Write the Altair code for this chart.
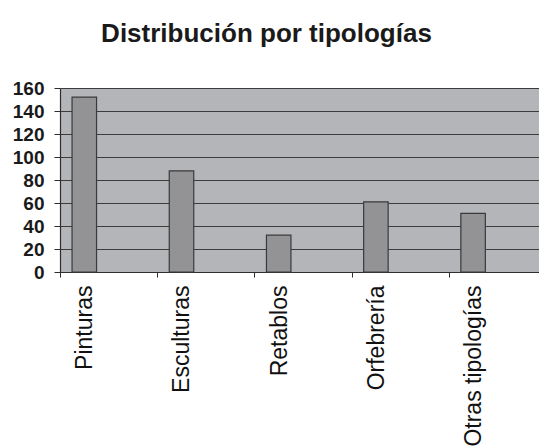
import altair as alt
import pandas as pd

categories = ["Pinturas", "Esculturas", "Retablos", "Orfebrería", "Otras tipologías"]
values = [152, 88, 32, 61, 51]
y_ticks = [0, 20, 40, 60, 80, 100, 120, 140, 160]

df = pd.DataFrame({"tipologia": categories, "valor": values})

FONT = "Liberation Sans"
DARK = "#2e2e2e"

chart = (
    alt.Chart(df)
    .mark_bar(width=24.5, xOffset=-24.3, fill="#939396", stroke="#3a3a3a", strokeWidth=1.2)
    .encode(
        x=alt.X(
            "tipologia:N",
            sort=categories,
            scale=alt.Scale(paddingInner=0, paddingOuter=0, range=[0, 486]),
            axis=alt.Axis(
                title=None,
                labelAngle=-90,
                labelOffset=-24,
                labelFontSize=23,
                labelFont=FONT,
                labelColor="#111111",
                labelPadding=8,
                tickBand="extent",
                tickSize=5,
                tickColor=DARK,
                domainColor=DARK,
                domainWidth=1.2,
                labelLimit=300,
            ),
        ),
        y=alt.Y(
            "valor:Q",
            scale=alt.Scale(domain=[0, 160], nice=False),
            axis=alt.Axis(
                title=None,
                values=y_ticks,
                labelFontSize=19,
                labelFont=FONT,
                labelFontWeight="bold",
                labelColor="#1a1a1a",
                labelPadding=10,
                tickSize=6,
                tickColor=DARK,
                domainColor=DARK,
                domainWidth=1.2,
                grid=True,
                gridColor="#3c3c3c",
                gridWidth=1.2,
            ),
        ),
    )
    .properties(
        width=479,
        height=184,
        title=alt.TitleParams(
            "Distribución por tipologías",
            font=FONT,
            fontSize=26,
            fontWeight="bold",
            color="#1a1a1a",
            anchor="middle",
            frame="group",
            dx=-33,
            offset=32,
        ),
        autosize=alt.AutoSizeParams(type="none"),
        padding={"left": 60, "top": 88, "right": 0, "bottom": 174},
    )
    .configure(background="white")
    .configure_view(fill="#b4b5b9", strokeWidth=0)
)

chart.save("out.html", embed_options={"renderer": "svg", "actions": False})
